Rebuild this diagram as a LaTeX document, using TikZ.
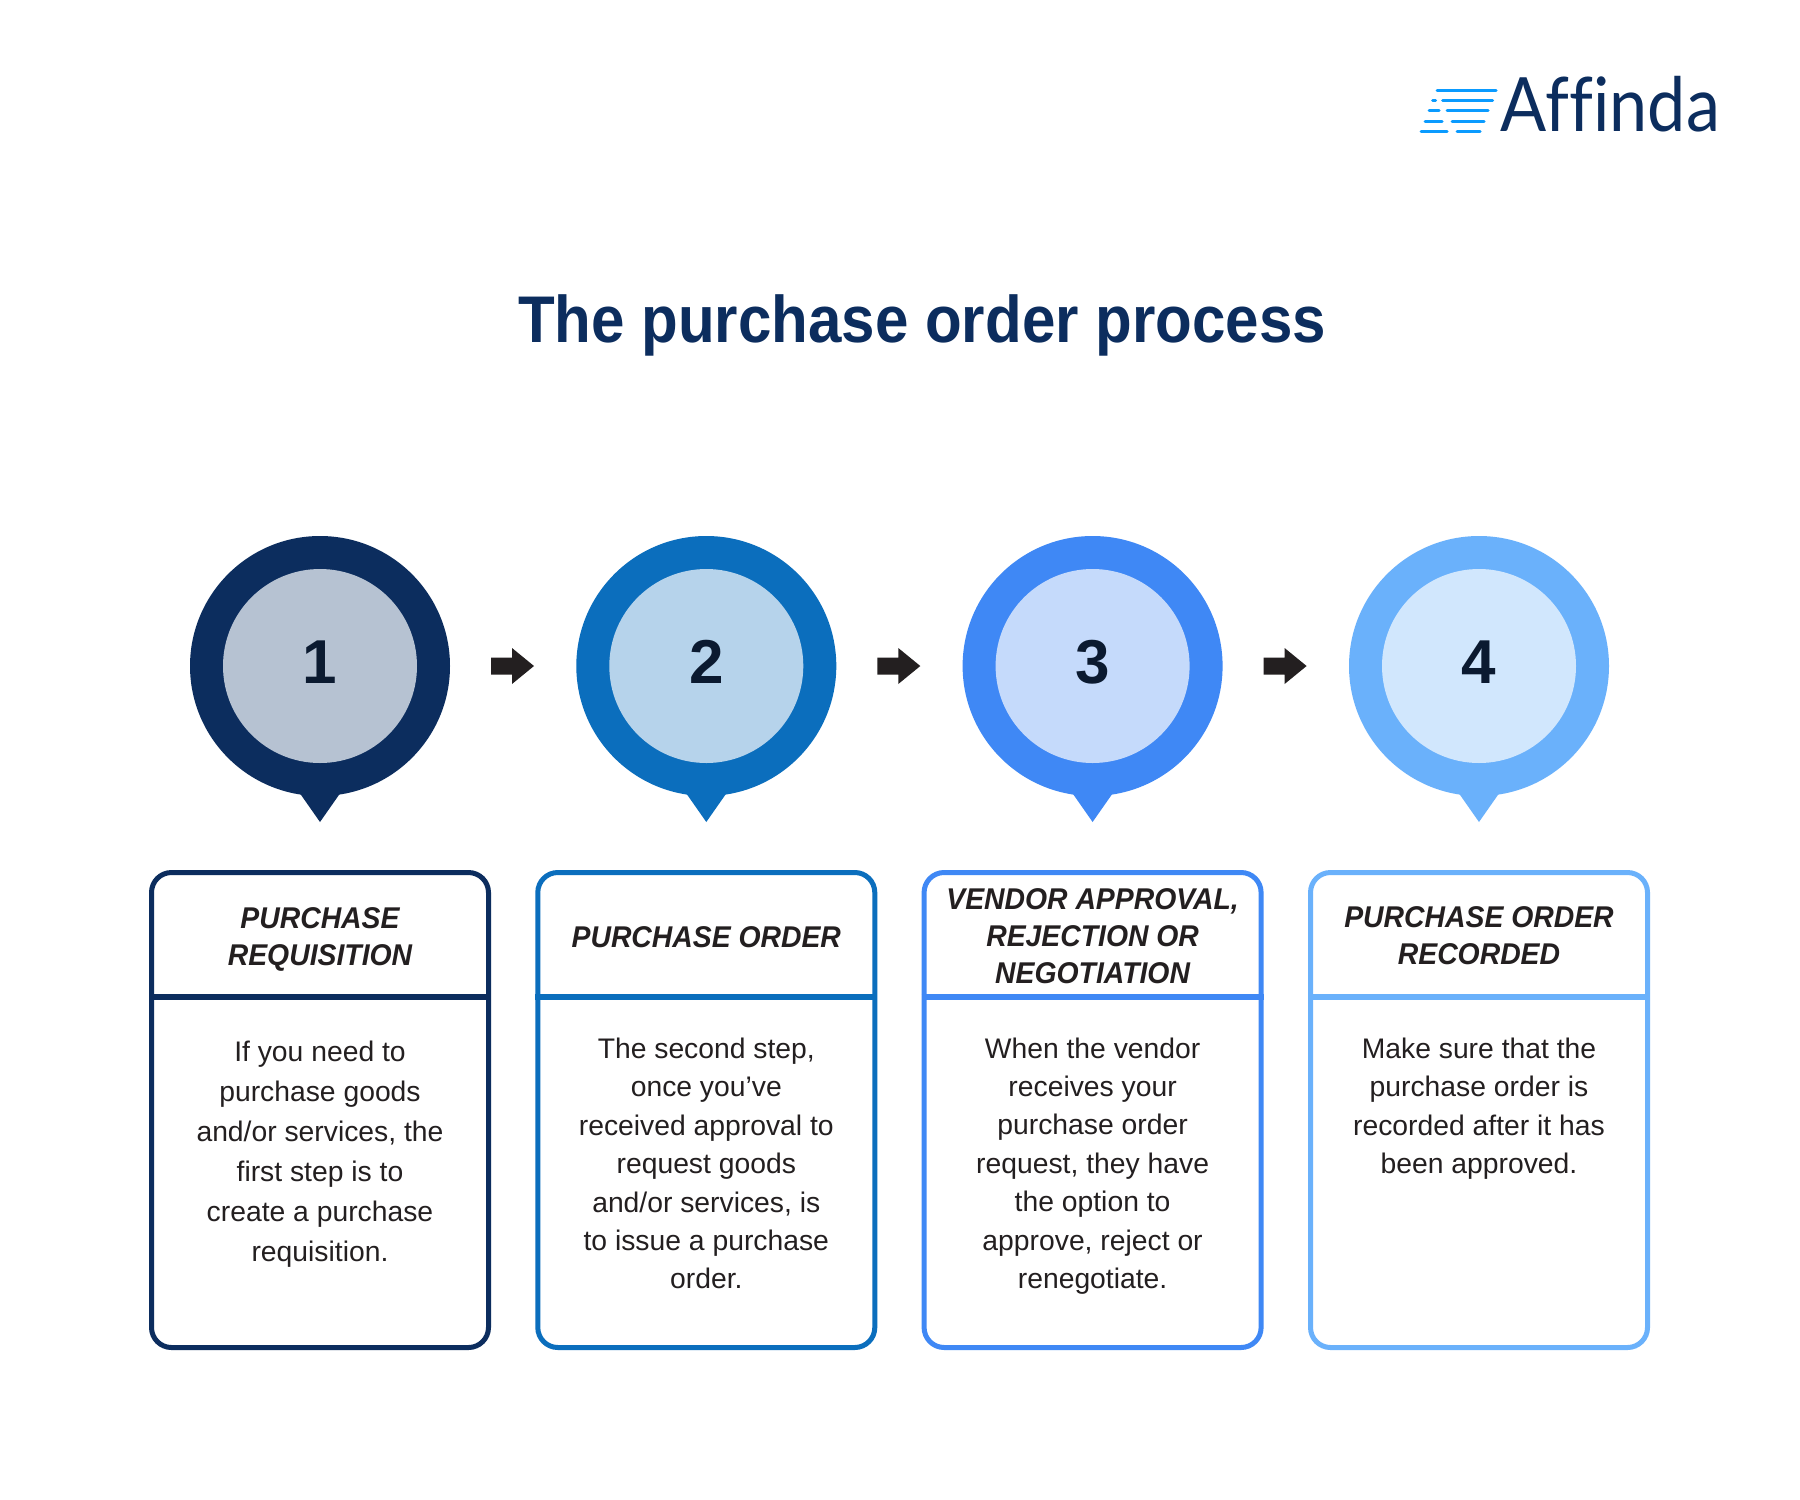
\documentclass[tikz,border=0pt]{standalone}
\usepackage{fontspec}
\setmainfont{Liberation Sans}
\newfontfamily\logofont[Ligatures=NoCommon,FakeStretch=0.91]{Lato}
\newfontfamily\titlefont[FakeStretch=0.91]{Liberation Sans}
\newfontfamily\headfont[FakeStretch=0.945]{Liberation Sans}
\definecolor{navy}{HTML}{0C2D5E}
\definecolor{inkk}{HTML}{231F20}
\definecolor{digit}{HTML}{0B1A30}
\definecolor{cA}{HTML}{0C2D5E}\definecolor{iA}{HTML}{B6C2D2}
\definecolor{cB}{HTML}{0B6EBD}\definecolor{iB}{HTML}{B6D3EB}
\definecolor{cC}{HTML}{3F88F5}\definecolor{iC}{HTML}{C5DAFB}
\definecolor{cD}{HTML}{6AB1FB}\definecolor{iD}{HTML}{D1E7FD}
\definecolor{logoblue}{HTML}{0A9BFF}
\tikzset{
 x=1pt,y=-1pt,
 outerc/.style={circle,inner sep=0,outer sep=0,minimum size=260pt,fill=#1},
 innerc/.style={circle,inner sep=0,outer sep=0,minimum size=194pt,fill=#1},
 num/.style={font=\fontsize{62}{62}\selectfont\bfseries,text=digit,inner sep=0},
 card/.style={rectangle,draw=#1,line width=5pt,rounded corners=20pt,minimum width=337pt,minimum height=475pt,inner sep=0,fill=white},
 divider/.style={draw=#1,line width=6pt},
 heading/.style={font=\headfont\fontsize{30}{37}\selectfont\bfseries\itshape,text=inkk,align=center,inner sep=0},
 bodyA/.style={font=\fontsize{28.3}{40}\selectfont,text=inkk,align=center,inner sep=0},
 bodyB/.style={font=\fontsize{28.3}{38.4}\selectfont,text=inkk,align=center,inner sep=0},
 blockarrow/.style={fill=inkk,draw=none},
 logoline/.style={draw=logoblue,line width=3pt,line cap=round},
}
\begin{document}
\begin{tikzpicture}
\useasboundingbox (0,0) rectangle (1800,1500);
\fill[white] (0,0) rectangle (1800,1500);
% logo
\foreach \a/\b/\yy in {1437/1496/90,1432.5/1435.5/100.3,1442.5/1492.5/100.3,1429/1439/110.7,1447/1488/110.7,1425/1442/121,1452/1484/121,1421/1447/131,1457/1480/131}
  \draw[logoline] (\a,\yy) -- (\b,\yy);
\node[anchor=base west,inner sep=0,text=navy,font=\logofont\fontsize{75}{75}\selectfont] (logo) at (1500.5,131) {Affinda};
% title
\node[font=\titlefont\fontsize{66}{66}\selectfont\bfseries,text=navy,inner sep=0,anchor=base] (title) at (922,342) {The purchase order process};
% columns
\foreach \n/\cx/\co/\ci in {1/320/cA/iA,2/706.3/cB/iB,3/1092.6/cC/iC,4/1479/cD/iD}{
  \node[outerc=\co] (outer\n) at (\cx,666) {};
  \fill[\co] (\cx-21,792) -- (\cx,822) -- (\cx+21,792) -- cycle;
  \node[innerc=\ci] (inner\n) at (\cx,666) {};
  \node[num] (num\n) at (\cx,662) {\n};
  \node[card=\co] (card\n) at (\cx,1110) {};
  \coordinate (dl\n) at (\cx-171,996.5);
  \coordinate (dr\n) at (\cx+171,996.5);
  \draw[divider=\co] (dl\n) -- (dr\n);
}
% block arrows between the steps
\foreach \n/\cx in {1/513,2/899.3,3/1285.6}{
  \coordinate (ar\n) at (\cx,666);
  \fill[blockarrow] ([shift={(-22,-8.5)}]ar\n) -- ([shift={(-1,-8.5)}]ar\n) -- ([shift={(-1,-18)}]ar\n) -- ([shift={(21,0)}]ar\n) -- ([shift={(-1,18)}]ar\n) -- ([shift={(-1,8.5)}]ar\n) -- ([shift={(-22,8.5)}]ar\n) -- cycle;
}
% headings
\node[heading] (h1) at (320,939) {PURCHASE\\REQUISITION};
\node[heading] (h2) at (706.3,937) {PURCHASE ORDER};
\node[heading] (h3) at (1092.6,936) {VENDOR APPROVAL,\\REJECTION OR\\NEGOTIATION};
\node[heading] (h4) at (1479,936) {PURCHASE ORDER\\RECORDED};
% bodies
\node[bodyA] (b1) at (320,1154) {If you need to\\purchase goods\\and/or services, the\\first step is to\\create a purchase\\requisition.};
\node[bodyB] (b2) at (706.3,1163.5) {The second step,\\once you’ve\\received approval to\\request goods\\and/or services, is\\to issue a purchase\\order.};
\node[bodyB] (b3) at (1092.6,1166) {When the vendor\\receives your\\purchase order\\request, they have\\the option to\\approve, reject or\\renegotiate.};
\node[bodyB] (b4) at (1479,1108.5) {Make sure that the\\purchase order is\\recorded after it has\\been approved.};
\end{tikzpicture}
\end{document}
